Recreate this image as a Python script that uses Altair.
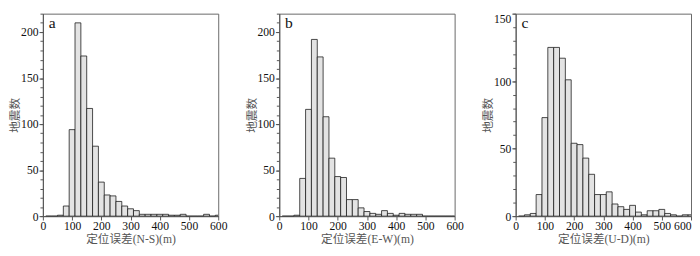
import altair as alt
import pandas as pd

# Histogram bin centres (m), 20 m bins
bin_centers = list(range(20, 601, 20))

# counts per bin
ns_counts = [0, 0, 1, 11, 94, 210, 174, 117, 76, 37, 23, 22, 16, 11, 8, 6, 2, 2, 2, 2, 2, 1, 1, 2, 0, 0, 0, 2, 0, 1]
ew_counts = [0, 0, 1, 41, 116, 192, 173, 108, 63, 43, 42, 18, 18, 9, 5, 3, 2, 6, 3, 1, 3, 2, 2, 2, 0, 0, 0, 0, 0, 0]
ud_counts = [0, 1, 2, 16, 73, 125, 125, 117, 101, 54, 53, 43, 31, 16, 16, 18, 9, 7, 5, 8, 3, 1, 4, 4, 5, 2, 1, 0, 1, 1]

panel_labels = ["a", "b", "c"]
x_titles = ["定位误差(N-S)(m)", "定位误差(E-W)(m)", "定位误差(U-D)(m)"]
y_title = "地震数"
x_ticks = [0, 100, 200, 300, 400, 500, 600]
y_max = [220, 220, 150]
y_major = [[0, 50, 100, 150, 200], [0, 50, 100, 150, 200], [0, 50, 100, 150]]

SERIF = "Liberation Serif"
TITLE_FONT = "Liberation Serif, Noto Sans CJK SC"


def panel(counts, label, xtitle, ymax, ymajor, flush_last):
    df = pd.DataFrame({"center": bin_centers, "count": counts})
    df["x0"] = df["center"] - 10
    df["x1"] = df["center"] + 10
    df["base"] = 0
    xs = alt.Scale(domain=[0, 600], nice=False, zero=False)
    ys = alt.Scale(domain=[0, ymax], nice=False)
    minor = list(range(0, ymax + 1, 10))
    label_align = {"expr": "datum.value >= 600 ? 'right' : 'center'"} if flush_last else "center"
    y_baseline = {"expr": "datum.value >= %d ? 'top' : 'middle'" % ymax}
    bars = alt.Chart(df).mark_bar(
        fill="#e3e3e3", stroke="#1a1a1a", strokeWidth=0.8, clip=True
    ).encode(
        x=alt.X("x0:Q", scale=xs,
                axis=alt.Axis(values=x_ticks, title=xtitle, tickSize=4, labelPadding=1,
                              titlePadding=2, labelFlush=False, format="d",
                              labelAlign=label_align)),
        x2="x1",
        y=alt.Y("count:Q", scale=ys,
                axis=alt.Axis(values=ymajor, title=y_title, orient="left", tickSize=4,
                              labelPadding=1, titlePadding=-1, format="d",
                              labelBaseline=y_baseline, labelFlush=False)),
        y2="base",
    )
    minor_layer = alt.Chart(df).mark_point(opacity=0).encode(
        y=alt.Y("count:Q", scale=ys,
                axis=alt.Axis(values=minor, labels=False, domain=False, tickSize=3,
                              title=None, orient="left", grid=False)),
    )
    txt = alt.Chart(pd.DataFrame({"t": [label]})).mark_text(
        font=SERIF, fontSize=16, color="#111", align="left", baseline="middle"
    ).encode(text="t:N", x=alt.value(6), y=alt.value(10))
    return alt.layer(bars, minor_layer, txt).resolve_axis(y="independent").properties(
        width=181, height=209
    )


panels = [
    panel(c, l, t, m, v, f)
    for c, l, t, m, v, f in zip([ns_counts, ew_counts, ud_counts], panel_labels, x_titles,
                                y_max, y_major, [False, False, True])
]

chart = alt.hconcat(*panels, spacing=17).properties(
    padding={"left": 0, "top": 0, "right": 0, "bottom": -2}
).configure_view(
    stroke="#666", strokeWidth=1
).configure_axis(
    domainColor="#555", tickColor="#555", grid=False,
    labelFont=SERIF, labelFontSize=12, labelColor="#111",
    titleFont=TITLE_FONT, titleFontSize=12, titleColor="#555", titleFontWeight="normal",
)

chart.save("out.html", embed_options={"renderer": "svg", "actions": False})
